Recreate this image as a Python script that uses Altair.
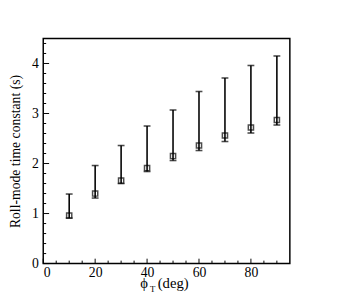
import altair as alt
import pandas as pd

phi = [10, 20, 30, 40, 50, 60, 70, 80, 90]
tau = [0.96, 1.40, 1.66, 1.91, 2.15, 2.36, 2.56, 2.72, 2.87]
upper = [1.39, 1.96, 2.36, 2.75, 3.07, 3.44, 3.71, 3.96, 4.15]
lower = [0.91, 1.31, 1.60, 1.84, 2.06, 2.26, 2.44, 2.61, 2.77]

x_major = [0, 20, 40, 60, 80]
x_minor = [5, 10, 15, 25, 30, 35, 45, 50, 55, 65, 70, 75, 85, 90]
y_major = [0, 1, 2, 3, 4]
y_minor = [round(0.2 * i, 1) for i in range(23) if i % 5 != 0]

W, H = 252, 230
FONT = "Liberation Serif"

df = pd.DataFrame({"phi": phi, "tau": tau, "hi": upper, "lo": lower})

xs = alt.Scale(domain=[0, 95], nice=False, zero=False)
ys = alt.Scale(domain=[0, 4.5], nice=False, zero=False)

xax = alt.Axis(values=x_major, tickSize=0, domain=False, grid=False, labelFont=FONT,
               labelFontSize=14, labelColor="black", labelPadding=2, title=None)
yax = alt.Axis(values=y_major, tickSize=0, domain=False, grid=False, labelFont=FONT,
               labelFontSize=14, labelColor="black", labelPadding=5,
               title="Roll-mode time constant (s)", titleFont=FONT, titleFontSize=14,
               titleFontWeight="normal", titleColor="black", titlePadding=9)

base = alt.Chart(df)

rules = base.mark_rule(color="black", strokeWidth=1.6).encode(
    x=alt.X("phi:Q", scale=xs, axis=xax),
    y=alt.Y("lo:Q", scale=ys, axis=yax),
    y2="hi:Q",
)
cap_hi = base.mark_tick(color="black", orient="horizontal", size=7, thickness=1.6).encode(
    x=alt.X("phi:Q", scale=xs), y=alt.Y("hi:Q", scale=ys))
cap_lo = base.mark_tick(color="black", orient="horizontal", size=7, thickness=1.6).encode(
    x=alt.X("phi:Q", scale=xs), y=alt.Y("lo:Q", scale=ys))
pts = base.mark_point(shape="square", filled=False, color="black", size=28, strokeWidth=1.5).encode(
    x=alt.X("phi:Q", scale=xs), y=alt.Y("tau:Q", scale=ys))

def yticks(vals, length):
    d = pd.DataFrame({"v": vals})
    return alt.Chart(d).mark_rule(color="black", strokeWidth=1).encode(
        y=alt.Y("v:Q", scale=ys), x=alt.value(0), x2=alt.value(length))

def xticks(vals, length):
    d = pd.DataFrame({"v": vals})
    return alt.Chart(d).mark_rule(color="black", strokeWidth=1).encode(
        x=alt.X("v:Q", scale=xs), y=alt.value(H), y2=alt.value(H - length))

title_df = pd.DataFrame({"t": ["ϕ"], "s": ["T"], "r": ["(deg)"]})
t1 = alt.Chart(title_df).mark_text(font=FONT, fontSize=15, color="black", align="right", baseline="alphabetic").encode(
    text="t:N", x=alt.value(W / 2 - 19), y=alt.value(H + 25))
t2 = alt.Chart(title_df).mark_text(font=FONT, fontSize=9, color="black", align="left", baseline="alphabetic").encode(
    text="s:N", x=alt.value(W / 2 - 17), y=alt.value(H + 29))
t3 = alt.Chart(title_df).mark_text(font=FONT, fontSize=15, color="black", align="left", baseline="alphabetic").encode(
    text="r:N", x=alt.value(W / 2 - 9), y=alt.value(H + 25))

chart = alt.layer(
    yticks(y_minor, 3), yticks(y_major, 6), xticks(x_minor, 3), xticks(x_major, 5),
    rules, cap_hi, cap_lo, pts, t1, t2, t3,
).properties(
    width=W, height=H,
    autosize=alt.AutoSizeParams(type="none"),
    padding={"left": 36, "top": 28, "right": 40, "bottom": 30},
).configure(
    background="white",
    view=alt.ViewConfig(stroke="black", strokeWidth=1.5),
)

chart.save("out.html", embed_options={"renderer": "svg", "actions": False})
